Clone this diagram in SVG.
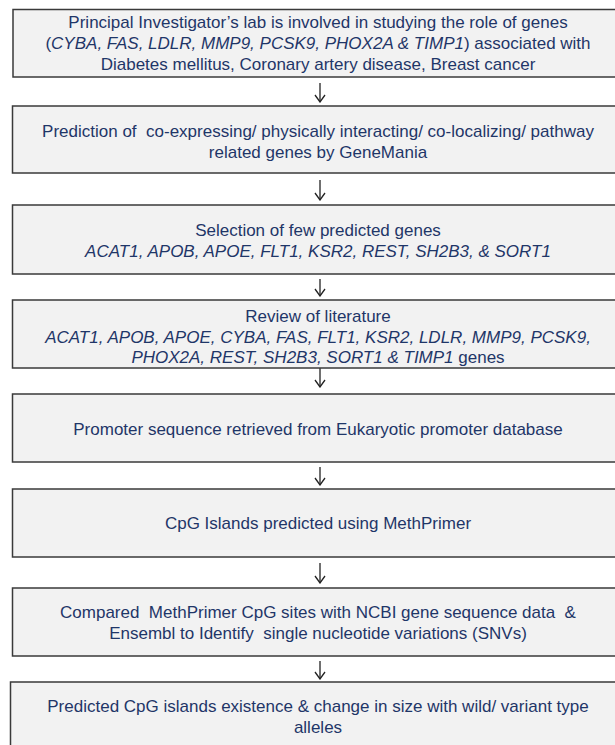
<svg xmlns="http://www.w3.org/2000/svg" width="615" height="745" viewBox="0 0 615 745">
<style>
.box{fill:#f2f2f2;stroke:#3a3a3a;stroke-width:1.5}
.t{font-family:"Liberation Sans",Arial,sans-serif;font-size:17px;fill:#1f3668;text-anchor:middle;white-space:pre}
.i{font-style:italic}
.c{stroke:#222;stroke-width:1.3;fill:none}
</style>
<defs>
<marker id="ah" viewBox="0 0 10 12" refX="9" refY="6" markerWidth="10" markerHeight="12" markerUnits="userSpaceOnUse" orient="auto">
<path d="M2,1 L9,6 L2,11" fill="none" stroke="#222" stroke-width="1.3"/>
</marker>
</defs>
<g id="connectors">
<line class="c" x1="320" y1="83" x2="320" y2="102" marker-end="url(#ah)"/>
<line class="c" x1="320" y1="180" x2="320" y2="200" marker-end="url(#ah)"/>
<line class="c" x1="320" y1="279" x2="320" y2="296" marker-end="url(#ah)"/>
<line class="c" x1="320" y1="368" x2="320" y2="387" marker-end="url(#ah)"/>
<line class="c" x1="320" y1="467" x2="320" y2="485" marker-end="url(#ah)"/>
<line class="c" x1="320" y1="563" x2="320" y2="583" marker-end="url(#ah)"/>
<line class="c" x1="320" y1="661" x2="320" y2="679" marker-end="url(#ah)"/>
</g>
<g id="n1">
<rect class="box" x="13" y="9.5" width="610" height="67.5"/>
<text class="t" x="318" y="28">Principal Investigator’s lab is involved in studying the role of genes</text>
<text class="t" x="318" y="49">(<tspan class="i">CYBA, FAS, LDLR, MMP9, PCSK9, PHOX2A &amp; TIMP1</tspan>) associated with</text>
<text class="t" x="318" y="70">Diabetes mellitus, Coronary artery disease, Breast cancer</text>
</g>
<g id="n2">
<rect class="box" x="12.5" y="106" width="610" height="67"/>
<text class="t" x="318" y="137" xml:space="preserve">Prediction of  co-expressing/ physically interacting/ co-localizing/ pathway</text>
<text class="t" x="318" y="158">related genes by GeneMania</text>
</g>
<g id="n3">
<rect class="box" x="12.5" y="205" width="610" height="69"/>
<text class="t" x="318" y="236">Selection of few predicted genes</text>
<text class="t i" x="318" y="257">ACAT1, APOB, APOE, FLT1, KSR2, REST, SH2B3, &amp; SORT1</text>
</g>
<g id="n4">
<rect class="box" x="12.5" y="300" width="610" height="68"/>
<text class="t" x="318" y="322">Review of literature</text>
<text class="t i" x="318" y="343">ACAT1, APOB, APOE, CYBA, FAS, FLT1, KSR2, LDLR, MMP9, PCSK9,</text>
<text class="t" x="318" y="363"><tspan class="i">PHOX2A, REST, SH2B3, SORT1 &amp; TIMP1</tspan> genes</text>
</g>
<g id="n5">
<rect class="box" x="12.5" y="394" width="610" height="68"/>
<text class="t" x="318" y="435">Promoter sequence retrieved from Eukaryotic promoter database</text>
</g>
<g id="n6">
<rect class="box" x="12.5" y="489" width="610" height="68"/>
<text class="t" x="318" y="529">CpG Islands predicted using MethPrimer</text>
</g>
<g id="n7">
<rect class="box" x="12.5" y="588" width="610" height="68"/>
<text class="t" x="318" y="618" xml:space="preserve">Compared  MethPrimer CpG sites with NCBI gene sequence data  &amp;</text>
<text class="t" x="318" y="639" xml:space="preserve">Ensembl to Identify  single nucleotide variations (SNVs)</text>
</g>
<g id="n8">
<rect class="box" x="10.5" y="682" width="612" height="80"/>
<text class="t" x="318" y="712">Predicted CpG islands existence &amp; change in size with wild/ variant type</text>
<text class="t" x="318" y="733">alleles</text>
</g>
</svg>
